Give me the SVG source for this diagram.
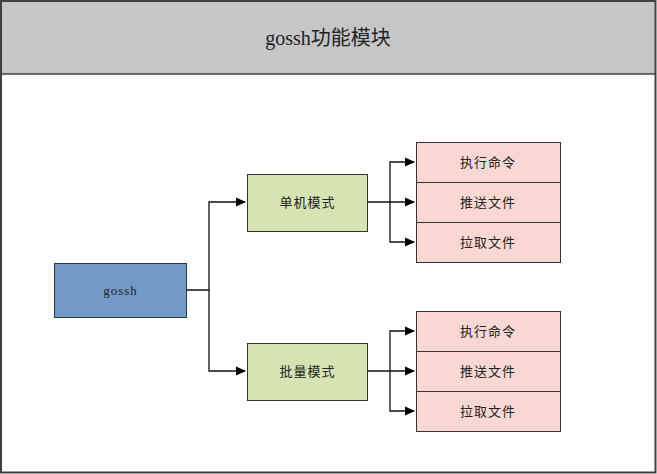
<svg xmlns="http://www.w3.org/2000/svg" width="657" height="474" viewBox="0 0 657 474">
<style>
text{font-family:"Liberation Serif","Noto Sans CJK SC",serif;fill:#222;text-anchor:middle;dominant-baseline:central}
.n{font-size:13px;letter-spacing:1px}
.box{stroke:#333;stroke-width:1}
.c{fill:none;stroke:#111;stroke-width:1.3}
</style>
<defs>
<marker id="a" markerWidth="10" markerHeight="10" refX="9" refY="5" orient="auto" markerUnits="userSpaceOnUse">
<path d="M0,0.5 L10,5 L0,9.5 Z" fill="#000"/>
</marker>
</defs>
<rect x="0" y="0" width="657" height="474" fill="#fff"/>
<g id="frame">
<rect x="1" y="1.5" width="654" height="72.5" fill="#c6c6c6"/>
<line x1="1" y1="74" x2="655" y2="74" stroke="#404040" stroke-width="1.5"/>
<rect x="1" y="1" width="654.5" height="471.5" fill="none" stroke="#404040" stroke-width="2"/>
<text x="328" y="38" style="font-size:20px">gossh功能模块</text>
</g>
<g id="connectors">
<polyline class="c" points="187,290 209,290 209,202 245,202" marker-end="url(#a)"/>
<polyline class="c" points="209,290 209,371 245,371" marker-end="url(#a)"/>
<polyline class="c" points="367,202 414,202" marker-end="url(#a)"/>
<polyline class="c" points="390,202 390,162 414,162" marker-end="url(#a)"/>
<polyline class="c" points="390,202 390,242 414,242" marker-end="url(#a)"/>
<polyline class="c" points="367,371 414,371" marker-end="url(#a)"/>
<polyline class="c" points="390,371 390,331 414,331" marker-end="url(#a)"/>
<polyline class="c" points="390,371 390,411 414,411" marker-end="url(#a)"/>
</g>
<g id="gossh">
<rect class="box" x="54.5" y="263.5" width="132" height="54" fill="#7399c6"/>
<text class="n" x="120.5" y="290">gossh</text>
</g>
<g id="single">
<rect class="box" x="247.5" y="174.5" width="120" height="57" fill="#d6e4b4"/>
<text class="n" x="307.5" y="202">单机模式</text>
</g>
<g id="batch">
<rect class="box" x="247.5" y="343.5" width="120" height="57" fill="#d6e4b4"/>
<text class="n" x="307.5" y="371">批量模式</text>
</g>
<g id="s-exec">
<rect class="box" x="416.5" y="142.5" width="144" height="40" fill="#f9d8d4"/>
<text class="n" x="488" y="162">执行命令</text>
</g>
<g id="s-push">
<rect class="box" x="416.5" y="182.5" width="144" height="40" fill="#f9d8d4"/>
<text class="n" x="488" y="202">推送文件</text>
</g>
<g id="s-pull">
<rect class="box" x="416.5" y="222.5" width="144" height="40" fill="#f9d8d4"/>
<text class="n" x="488" y="242">拉取文件</text>
</g>
<g id="b-exec">
<rect class="box" x="416.5" y="311.5" width="144" height="40" fill="#f9d8d4"/>
<text class="n" x="488" y="331">执行命令</text>
</g>
<g id="b-push">
<rect class="box" x="416.5" y="351.5" width="144" height="40" fill="#f9d8d4"/>
<text class="n" x="488" y="371">推送文件</text>
</g>
<g id="b-pull">
<rect class="box" x="416.5" y="391.5" width="144" height="40" fill="#f9d8d4"/>
<text class="n" x="488" y="411">拉取文件</text>
</g>
</svg>
